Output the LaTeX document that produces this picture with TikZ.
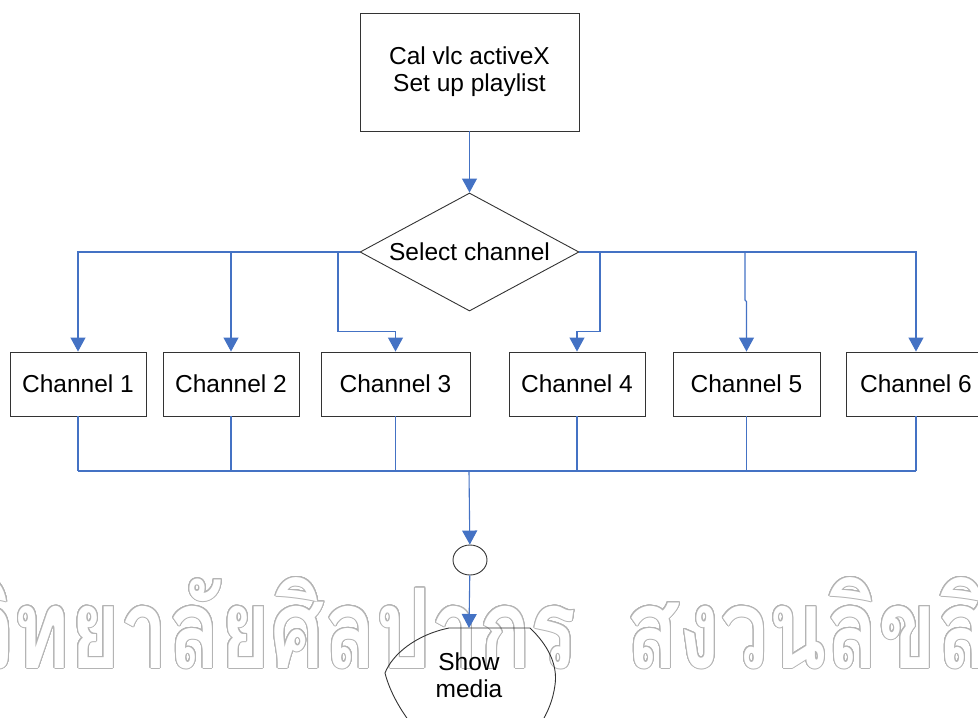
\documentclass[tikz,border=0pt]{standalone}
\usepackage{fontspec}
\setmainfont{Liberation Sans}
\newfontfamily\thaifont[Script=Thai]{Loma}
\usepackage[copies]{contour}
\usetikzlibrary{arrows.meta,shapes.geometric}
\definecolor{flowblue}{RGB}{68,114,196}
\definecolor{markgray}{RGB}{180,180,180}
\contourlength{1pt}
\contournumber{24}
\newcommand{\markword}[1]{\contour{markgray}{\scalebox{0.77}[1]{\fontsize{111}{111}\selectfont\thaifont\bfseries #1}}}
\begin{document}
\begin{tikzpicture}[x=1pt,y=-1pt,font=\fontsize{24.5}{27}\selectfont,
		box/.style={draw=black!80,line width=0.9pt,minimum height=64pt,inner sep=0pt},
		flow/.style={draw=flowblue,line width=1.1pt,-{Triangle[width=15pt,length=14pt]}},
		link/.style={draw=flowblue,line width=1.1pt}]
	\useasboundingbox (0,0) rectangle (978,718);
	% watermark
	\node[anchor=base east,inner sep=0pt,text=white] (markl) at (577,668) {\markword{มหาวิทยาลัยศิลปากร}};
	\node[anchor=base west,inner sep=0pt,text=white] (markr) at (626,668) {\markword{สงวนลิขสิทธิ์}};
	% steps
	\node[box,minimum width=219pt,minimum height=118pt,align=center] (setup) at (469.5,72) {Cal vlc activeX\\Set up playlist};
	\node[diamond,draw=black!80,line width=0.9pt,minimum width=219pt,minimum height=118pt,aspect=1.86,inner sep=0pt] (select) at (469.5,252) {Select channel};
	\foreach \n/\x/\w in {1/78/136,2/231/136,3/395.5/149,4/577/136,5/746.5/147,6/916/140}
		\node[box,minimum width=\w pt] (ch\n) at (\x,384) {Channel \n};
	\node[ellipse,draw=black!80,line width=0.9pt,minimum width=34pt,minimum height=30pt,inner sep=0pt] (join) at (470,560) {};
	\node[align=center,inner sep=0pt] (show) at (469,675) {Show\\media};
	\coordinate (showtop) at (469,628);
	\draw[draw=black!80,line width=0.9pt] (412,725) .. controls (402,712) and (390,693) .. (385,673)
		.. controls (392,655) and (415,635) .. (449,628) -- (530,628)
		.. controls (548,645) and (558,665) .. (555,685) .. controls (553,700) and (548,712) .. (540,725);
	% branches
	\coordinate (turn3) at (338,252);
	\coordinate (turn4) at (600,252);
	\coordinate (turn5) at (745,252);
	\draw[flow] (setup) -- (select);
	\draw[flow] (select.west) -| (ch1);
	\draw[flow] (select.west -| ch2) -- (ch2);
	\draw[flow] (turn3) |- ([yshift=20pt]ch3.north) -- (ch3.north);
	\draw[flow] (turn4) |- ([yshift=20pt]ch4.north) -- (ch4.north);
	\draw[flow] (turn5) -- ++(0,48) -- ([yshift=50pt]ch5.north) -- (ch5.north);
	\draw[flow] (select.east) -| (ch6);
	% merge
	\coordinate (bus) at (469,471);
	\foreach \n in {1,...,6}
		\draw[link] (ch\n) -- (ch\n |- bus);
	\draw[link] (ch1 |- bus) -- (ch6 |- bus);
	\draw[flow] (bus) -- (join);
	\draw[flow] (join) -- (showtop);
\end{tikzpicture}
\end{document}
